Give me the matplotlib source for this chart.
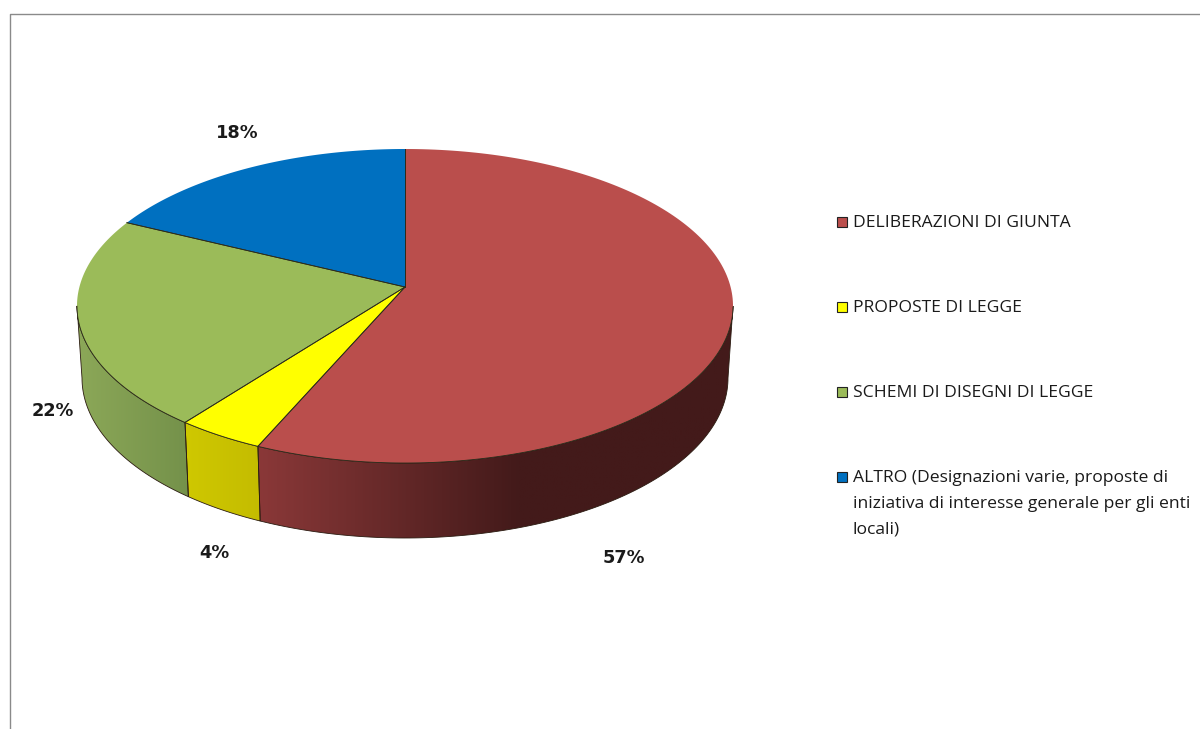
import numpy as np
import matplotlib
matplotlib.use('Agg')
import matplotlib.pyplot as plt
from matplotlib.colors import LinearSegmentedColormap
from matplotlib.patches import Polygon, Rectangle

categories = ['DELIBERAZIONI DI GIUNTA', 'PROPOSTE DI LEGGE', 'SCHEMI DI DISEGNI DI LEGGE',
              'ALTRO (Designazioni varie, proposte di\niniziativa di interesse generale per gli enti\nlocali)']
# shares as they look on the tilted pie, the printed labels are a bit different
shares = [57.4, 4.3, 22.2, 16.1]
labels = ['57%', '4%', '22%', '18%']
top_colors = ['#BA4E4C', '#FFFF00', '#9BBB59', '#0070C0']
side_left = ['#8A3838', '#CFC800', '#8CA858', '#004F88']
side_right = ['#431A1A', '#C4BC00', '#74914A', '#004F88']

label_pos = [(624, 558), (214, 553), (53, 411), (237, 133)]
legend_y = [222, 307, 392, 477]

# pie geometry in pixels
cx, cy, rx, ry = 405, 306, 328, 157
apex = (405, 287)
bx, by, brx, bry = 405, 378, 323, 160


def top_arc(a):
    return cx + rx * np.sin(a), cy - ry * np.cos(a)


def bottom_arc(a):
    return bx + brx * np.sin(a), by - bry * np.cos(a)


fig = plt.figure(figsize=(12, 7.29), dpi=100)
ax = fig.add_axes([0, 0, 1, 1])

edges = np.cumsum([0] + shares) / sum(shares) * 2 * np.pi

# sides first, only the front half of the rim shows
for i in range(len(shares)):
    a0 = max(edges[i], np.pi / 2)
    a1 = min(edges[i + 1], 3 * np.pi / 2)
    if a1 <= a0:
        continue
    t = np.linspace(a0, a1, 120)
    xt, yt = top_arc(t)
    xb, yb = bottom_arc(t[::-1])
    pts = np.column_stack([np.r_[xt, xb], np.r_[yt, yb]])
    poly = Polygon(pts, closed=True, facecolor='none', edgecolor='none')
    ax.add_patch(poly)
    # gradient runs left to right across the slice
    cm = LinearSegmentedColormap.from_list('side', [side_left[i], side_right[i]])
    grad = np.linspace(0, 1, 256).reshape(1, -1)
    if i == 0:
        grad = np.clip(grad / 0.55, 0, 1)
    im = ax.imshow(grad, extent=[pts[:, 0].min(), pts[:, 0].max(), pts[:, 1].max(), pts[:, 1].min()],
                   cmap=cm, vmin=0, vmax=1, aspect='auto', zorder=2)
    im.set_clip_path(poly)
    ax.add_patch(Polygon(pts, closed=True, facecolor='none', edgecolor='#2a1a10', lw=0.6, zorder=3))

# top faces, the back of the rim has no dark outline
for i in range(len(shares)):
    t = np.linspace(edges[i], edges[i + 1], 200)
    xt, yt = top_arc(t)
    pts = np.column_stack([np.r_[apex[0], xt], np.r_[apex[1], yt]])
    ax.add_patch(Polygon(pts, closed=True, facecolor=top_colors[i], edgecolor='none', zorder=4))
    ax.plot([apex[0], xt[0]], [apex[1], yt[0]], color='#2b2b1a', lw=0.6, zorder=5)
    ax.plot([apex[0], xt[-1]], [apex[1], yt[-1]], color='#2b2b1a', lw=0.6, zorder=5)
    front = (t > np.pi / 2) & (t < 3 * np.pi / 2)
    ax.plot(xt[front], yt[front], color='#2b2b1a', lw=0.6, zorder=5)

for (x, y), s in zip(label_pos, labels):
    ax.text(x, y, s, ha='center', va='center', fontsize=12.8, fontweight='bold',
            color='#1a1a1a', family='DejaVu Sans', zorder=6)

for y, name, c in zip(legend_y, categories, top_colors):
    ax.add_patch(Rectangle((837, y - 5), 10, 10, facecolor=c, edgecolor='#222222', lw=0.8, zorder=5))
    ax.text(853, y - 7, name, ha='left', va='top', fontsize=12.6, color='#1a1a1a',
            family='Open Sans', linespacing=1.8, zorder=6)

# thin frame on the top and left of the picture
ax.plot([1200, 9.5, 9.5], [13.5, 13.5, 729], color='#8a8a8a', lw=1.0, zorder=7)

ax.set_xlim(0, 1200)
ax.set_ylim(729, 0)
ax.axis('off')
fig.savefig('out.png', dpi=100, facecolor='white')
